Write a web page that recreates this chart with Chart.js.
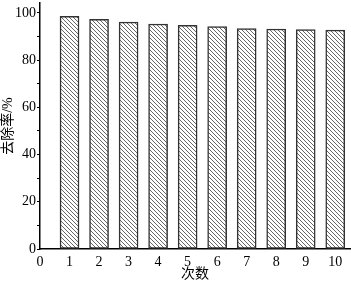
<!DOCTYPE html>
<html>
<head>
<meta charset="utf-8">
<script src="https://cdn.jsdelivr.net/npm/chart.js@4/dist/chart.umd.min.js"></script>
<style>
  html, body { margin: 0; padding: 0; background: #fff; }
  #wrap { width: 351px; height: 283px; }
</style>
</head>
<body>
<div id="wrap"><canvas id="chart" width="351" height="283"></canvas></div>
<script>
const runs = [1, 2, 3, 4, 5, 6, 7, 8, 9, 10];
const removal = [98.6, 97.3, 96.1, 95.3, 94.7, 94.2, 93.4, 93.2, 92.9, 92.7];
const yTicks = [0, 20, 40, 60, 80, 100];
const xTicks = [0, 1, 2, 3, 4, 5, 6, 7, 8, 9, 10];

function hatch() {
  const c = document.createElement('canvas');
  c.width = 4; c.height = 4;
  const g = c.getContext('2d');
  g.fillStyle = '#fff';
  g.fillRect(0, 0, 4, 4);
  g.strokeStyle = '#666';
  g.lineWidth = 1;
  g.beginPath();
  g.moveTo(-1, -1); g.lineTo(5, 5);
  g.moveTo(3, -1); g.lineTo(5, 1);
  g.moveTo(-1, 3); g.lineTo(1, 5);
  g.stroke();
  return g.createPattern(c, 'repeat');
}

const font = { family: '"Liberation Serif", "Times New Roman", serif', size: 14 };
const cjk = { family: '"Liberation Serif", "Noto Sans CJK SC", serif', size: 14 };

new Chart(document.getElementById('chart'), {
  type: 'bar',
  data: {
    datasets: [{
      data: runs.map((x, i) => ({ x, y: removal[i] })),
      backgroundColor: hatch(),
      borderColor: '#333',
      borderWidth: 1.5,
      borderSkipped: false,
      barThickness: 19,
    }],
  },
  options: {
    responsive: false,
    animation: false,
    layout: { padding: { top: 3, right: 1, left: 0, bottom: 0 } },
    plugins: { legend: { display: false }, tooltip: { enabled: false } },
    scales: {
      x: {
        type: 'linear',
        offset: false,
        min: 0,
        max: 10.5,
        afterBuildTicks: (s) => { s.ticks = xTicks.map((v) => ({ value: v })); },
        afterFit: (s) => { s.height = 34; },
        grid: { display: false, drawTicks: false },
        border: { display: true, color: '#000', width: 1.5 },
        ticks: { color: '#000', font, padding: 5, maxRotation: 0 },
        title: { display: true, text: '次数', color: '#000', font: cjk, padding: { top: 0, bottom: 0 } },
      },
      y: {
        min: 0,
        max: 104.2,
        afterBuildTicks: (s) => {
          const t = [];
          for (let v = 0; v <= 100; v += 10) t.push({ value: v });
          s.ticks = t;
        },
        afterFit: (s) => {
          s.width = 40;
          s.paddingTop = 0;
          s.paddingBottom = 0;
        },
        grid: { drawOnChartArea: false, drawTicks: true, tickLength: 3, color: '#000', lineWidth: 1 },
        border: { display: true, color: '#000', width: 1.5 },
        ticks: {
          color: '#000',
          font,
          padding: 1,
          callback: (v) => (yTicks.includes(v) ? String(v) : ''),
        },
        title: { display: true, text: '去除率/%', color: '#000', font: cjk, padding: { top: 0, bottom: 0 } },
      },
    },
  },
});
</script>
</body>
</html>
